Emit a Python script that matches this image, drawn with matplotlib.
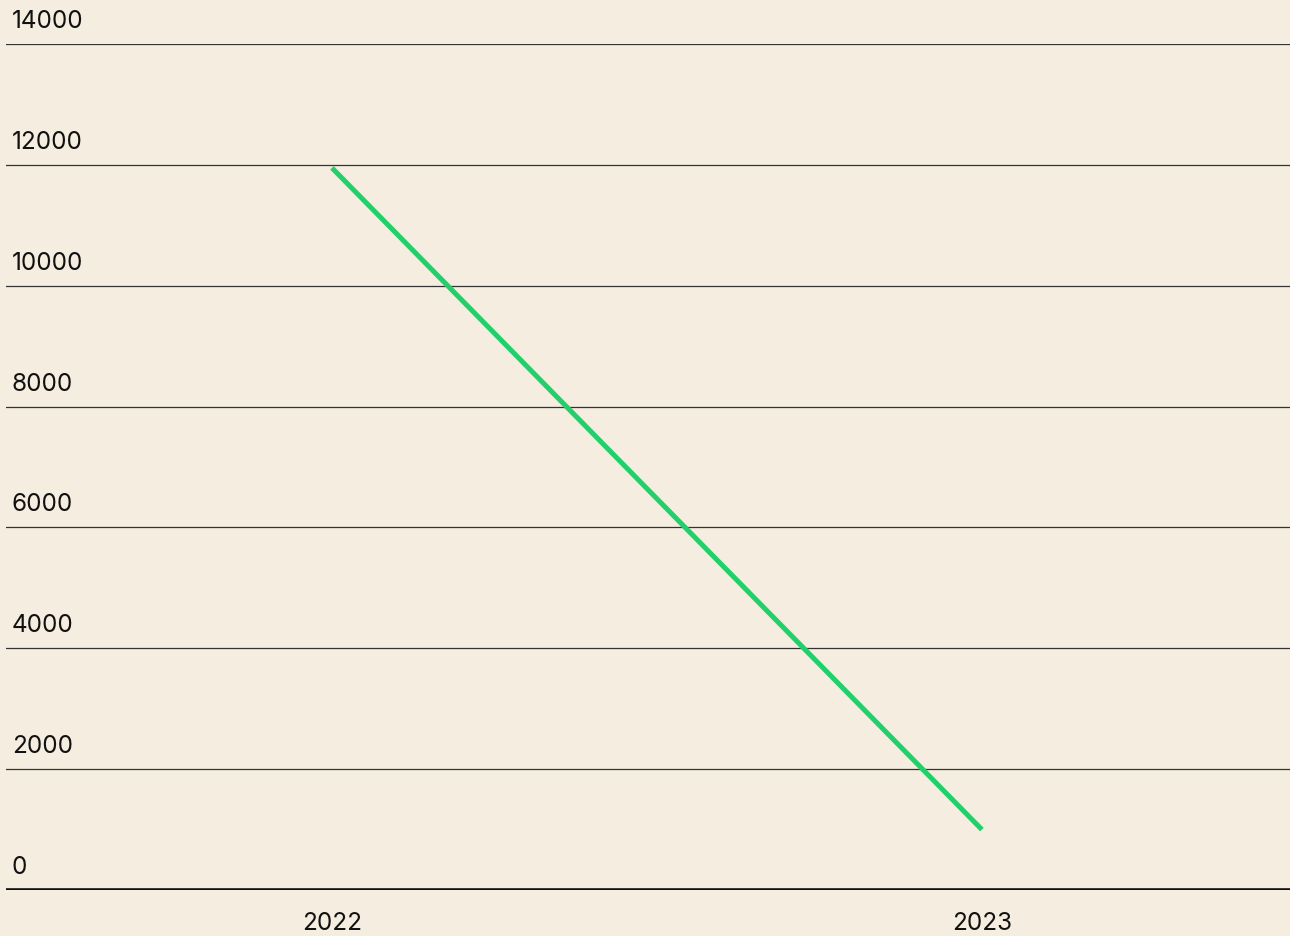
import matplotlib.pyplot as plt
from matplotlib.transforms import offset_copy

# ----- DATA -----
years = ["2022", "2023"]
values = [11950, 1000]
y_ticks = [0, 2000, 4000, 6000, 8000, 10000, 12000, 14000]

bg = "#F5EDDF"
plt.rcParams["font.family"] = ["Inter", "DejaVu Sans"]

fig = plt.figure(figsize=(12.9, 9.36), dpi=100, facecolor=bg)
ax = fig.add_axes([0.00465, 0.0491, 0.99535, 0.9039])
ax.set_facecolor(bg)

x = list(range(len(years)))
ax.plot(x, values, color="#22D06B", linewidth=3.6, solid_capstyle="butt", zorder=3)

# gridlines + labels above them
for t in y_ticks:
    if t == 0:
        ax.axhline(t, color="#111111", linewidth=2.6, zorder=2)
    else:
        ax.axhline(t, color="#333333", linewidth=0.9, zorder=1)
    tr = offset_copy(ax.get_yaxis_transform(), fig=fig, x=6, y=11, units="dots")
    ax.text(0, t, str(t), transform=tr, ha="left", va="bottom",
            fontsize=17.5, color="#111111", clip_on=False)

ax.set_ylim(0, 14000)
ax.set_xlim(-0.5015, 1.474)
ax.set_yticks([])
ax.set_xticks(x)
ax.set_xticklabels(years, fontsize=17.5, color="#111111")
ax.tick_params(axis="x", length=0, pad=16)
for s in ax.spines.values():
    s.set_visible(False)

fig.savefig("out.png", dpi=100, facecolor=bg)
